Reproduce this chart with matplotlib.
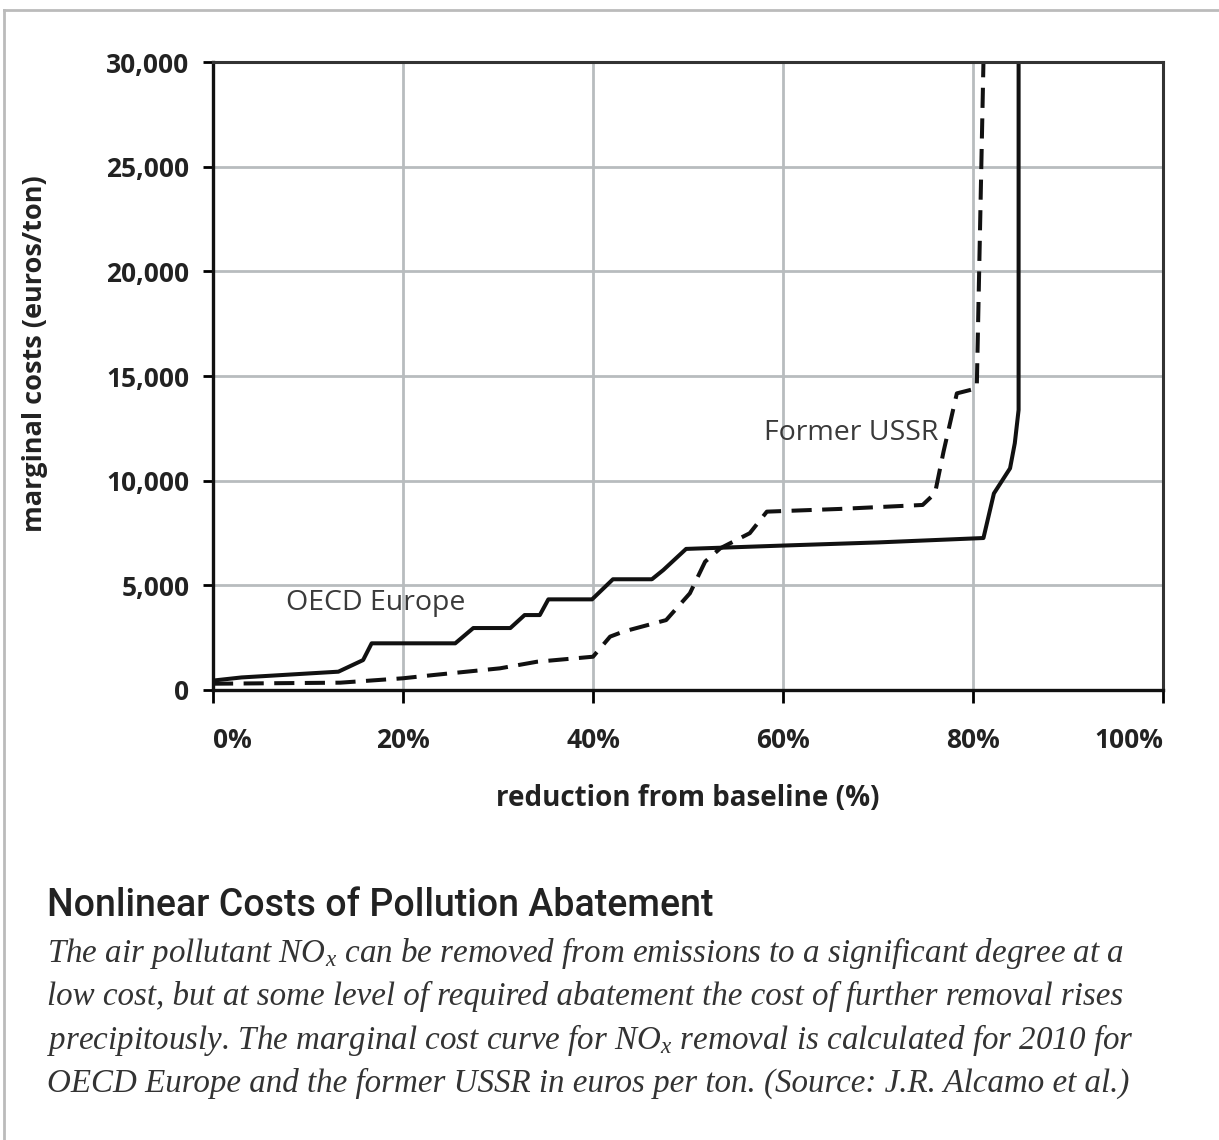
import matplotlib
matplotlib.use("Agg")
import matplotlib.pyplot as plt
from matplotlib.lines import Line2D

# reduction from baseline (%) vs marginal cost (euros/ton)
oecd_x = [0, 3, 13.2, 15.8, 16.7, 25.5, 27.4, 31.3, 32.8, 34.4, 35.3, 39.9, 42.1,
          46.2, 47.4, 49.8, 60, 70, 81.1, 82.2, 83.9, 84.4, 84.8, 84.8]
oecd_y = [450, 600, 875, 1430, 2230, 2230, 2960, 2960, 3580, 3580, 4330, 4330, 5290,
          5290, 5730, 6740, 6900, 7050, 7260, 9390, 10590, 11790, 13380, 30000]

ussr_x = [0, 13.4, 20.0, 23.2, 30.2, 34.1, 40.0, 41.8, 43.2, 47.7, 50.2, 51.8, 53.4,
          56.5, 58.3, 66, 74.7, 76.0, 76.9, 78.3, 80.3, 80.4, 81.1]
ussr_y = [300, 350, 560, 715, 1035, 1350, 1590, 2550, 2790, 3340, 4620, 6130, 6770,
          7490, 8520, 8650, 8840, 9400, 11390, 14170, 14400, 14490, 30000]

x_ticks = [0, 20, 40, 60, 80, 100]
x_labels = ["0%", "20%", "40%", "60%", "80%", "100%"]
y_ticks = [0, 5000, 10000, 15000, 20000, 25000, 30000]
y_labels = ["0", "5,000", "10,000", "15,000", "20,000", "25,000", "30,000"]

title = "Nonlinear Costs of Pollution Abatement"
caption = [
    r"The air pollutant NO$_\mathit{x}$ can be removed from emissions to a significant degree at a",
    "low cost, but at some level of required abatement the cost of further removal rises",
    r"precipitously. The marginal cost curve for NO$_\mathit{x}$ removal is calculated for 2010 for",
    "OECD Europe and the former USSR in euros per ton. (Source: J.R. Alcamo et al.)",
]

plt.rcParams['mathtext.fontset'] = 'custom'
plt.rcParams['mathtext.it'] = 'Liberation Serif:italic'
plt.rcParams['mathtext.rm'] = 'Liberation Serif'

W, H = 1219, 1140
fig = plt.figure(figsize=(W / 100, H / 100), dpi=100)
ax = fig.add_axes([213 / W, 1 - 690 / H, 950 / W, 628 / H])

ax.plot(oecd_x, oecd_y, color='#111111', lw=2.9, solid_joinstyle='round')
ax.plot(ussr_x, ussr_y, color='#111111', lw=2.9, dashes=(5, 2.6))

ax.set_xlim(0, 100)
ax.set_ylim(0, 30000)
ax.set_xticks(x_ticks)
ax.set_yticks(y_ticks)
ax.set_yticklabels(y_labels)
ax.set_xticklabels(x_labels)
for i, lab in enumerate(ax.get_xticklabels()):
    if i == 0:
        lab.set_horizontalalignment('left')
    elif i == len(x_labels) - 1:
        lab.set_horizontalalignment('right')

for lab in ax.get_xticklabels() + ax.get_yticklabels():
    lab.set_fontfamily('Open Sans')
    lab.set_fontweight('bold')
    lab.set_fontsize(19)
    lab.set_color('#222222')

ax.tick_params(axis='x', length=9, width=2, pad=18, direction='out')
ax.tick_params(axis='y', length=7, width=2, pad=10, direction='out')
ax.grid(True, color='#b8bcbe', lw=2)
ax.set_axisbelow(True)
for side in ['left', 'bottom']:
    ax.spines[side].set_linewidth(2.4)
    ax.spines[side].set_color('#111111')
for side in ['top', 'right']:
    ax.spines[side].set_linewidth(2.2)
    ax.spines[side].set_color('#333333')

ax.set_ylabel("marginal costs (euros/ton)", fontfamily='Open Sans', fontweight='bold',
              fontsize=19.5, color='#222222')
ax.yaxis.set_label_coords(-165 / 950, 0.535)
ax.set_xlabel("reduction from baseline (%)", fontfamily='Open Sans', fontweight='bold',
              fontsize=20, color='#222222')
ax.xaxis.set_label_coords(0.5, -94 / 628)

ax.text(7.7, 4150, "OECD Europe", fontfamily='Open Sans', fontsize=20.5, color='#3a3a3a',
        va='center')
ax.text(58.0, 12300, "Former USSR", fontfamily='Open Sans', fontsize=20.5, color='#3a3a3a',
        va='center')

fig.text(47 / W, 1 - 905 / H, title, fontfamily='Roboto', fontweight='medium',
         fontsize=27, color='#222222', va='center')
for i, line in enumerate(caption):
    fig.text(47 / W, 1 - (953 + 43.5 * i) / H, line, fontfamily='Liberation Serif',
             fontstyle='italic', fontsize=23.8, color='#333333', va='center')

# outer frame
fig.add_artist(Line2D([4 / W, 4 / W], [0, 1 - 10 / H], transform=fig.transFigure,
                      color='#bbbbbb', lw=2))
fig.add_artist(Line2D([4 / W, 1], [1 - 10 / H, 1 - 10 / H], transform=fig.transFigure,
                      color='#bbbbbb', lw=2))

fig.savefig("out.png", dpi=100)
